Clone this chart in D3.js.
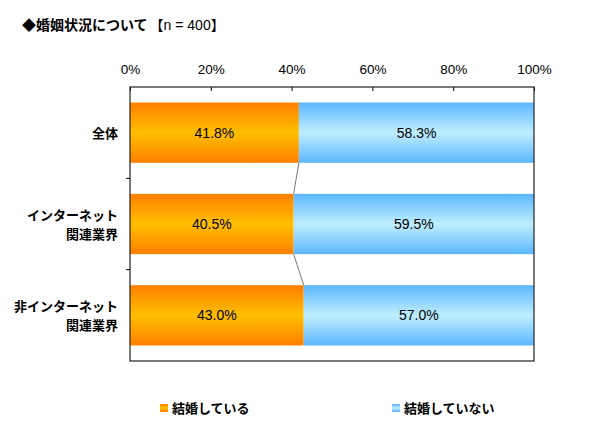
<!DOCTYPE html>
<html>
<head>
<meta charset="utf-8">
<script src="https://cdn.jsdelivr.net/npm/d3@7"></script>
<style>
  body { margin: 0; background: #fff; }
  svg { font-family: "Liberation Sans", "Noto Sans CJK JP", sans-serif; }
</style>
</head>
<body>
<script>
const categories = [["全体"], ["インターネット", "関連業界"], ["非インターネット", "関連業界"]];
const married = [41.8, 40.5, 43.0];
const notMarried = [58.3, 59.5, 57.0];
const labelsMarried = ["41.8%", "40.5%", "43.0%"];
const labelsNot = ["58.3%", "59.5%", "57.0%"];
const xTicks = [0, 20, 40, 60, 80, 100];
const seriesNames = ["結婚している", "結婚していない"];

const W = 600, H = 436;
const plotL = 130, plotR = 534, plotT = 87, plotB = 361;

const svg = d3.select("body").append("svg")
  .attr("width", W).attr("height", H);

// gradients
const defs = svg.append("defs");
function grad(id, edge, mid) {
  const g = defs.append("linearGradient").attr("id", id)
    .attr("x1", 0).attr("y1", 0).attr("x2", 0).attr("y2", 1);
  g.append("stop").attr("offset", "0%").attr("stop-color", edge);
  g.append("stop").attr("offset", "50%").attr("stop-color", mid);
  g.append("stop").attr("offset", "100%").attr("stop-color", edge);
}
grad("gOrange", "#ff7f00", "#ffbf00");
grad("gBlue", "#5cb6ff", "#bfeeff");

const x = d3.scaleLinear().domain([0, 100]).range([plotL, plotR]);
const y = d3.scaleBand().domain(d3.range(categories.length))
  .range([plotT, plotB]).paddingInner(0.34).paddingOuter(0.17);

// title
const title = svg.append("text")
  .attr("x", 22).attr("y", 30)
  .attr("font-size", 14);
title.append("tspan").attr("font-weight", "bold").text("◆婚姻状況について");
title.append("tspan").attr("dx", 2).text("【n = 400】");

// top axis
const xAxis = d3.axisTop(x).tickValues(xTicks)
  .tickFormat(d => d + "%").tickSize(-4).tickPadding(13);
const gx = svg.append("g").attr("transform", `translate(0,${plotT})`).call(xAxis);
gx.select(".domain").remove();
gx.selectAll("line").attr("stroke", "#000");
gx.selectAll("text").attr("font-size", 13.5).attr("font-family", "Liberation Sans, sans-serif").attr("dy", "0");

// bars
const rows = d3.range(categories.length);
svg.selectAll(".bm").data(rows).enter().append("rect")
  .attr("x", x(0)).attr("y", i => y(i))
  .attr("width", i => x(married[i]) - x(0))
  .attr("height", y.bandwidth())
  .attr("fill", "url(#gOrange)");
svg.selectAll(".bn").data(rows).enter().append("rect")
  .attr("x", i => x(married[i])).attr("y", i => y(i))
  .attr("width", i => x(Math.min(100, married[i] + notMarried[i])) - x(married[i]))
  .attr("height", y.bandwidth())
  .attr("fill", "url(#gBlue)");

// series lines
svg.selectAll(".sl").data(rows.slice(0, -1)).enter().append("line")
  .attr("x1", i => x(married[i])).attr("y1", i => y(i) + y.bandwidth())
  .attr("x2", i => x(married[i + 1])).attr("y2", i => y(i + 1))
  .attr("stroke", "#777").attr("stroke-width", 1);

// data labels
svg.selectAll(".lm").data(rows).enter().append("text")
  .attr("x", i => x(married[i] / 2)).attr("y", i => y(i) + y.bandwidth() / 2 + 5)
  .attr("text-anchor", "middle").attr("font-size", 14)
  .text(i => labelsMarried[i]);
svg.selectAll(".ln").data(rows).enter().append("text")
  .attr("x", i => x(married[i] + notMarried[i] / 2)).attr("y", i => y(i) + y.bandwidth() / 2 + 5)
  .attr("text-anchor", "middle").attr("font-size", 14)
  .text(i => labelsNot[i]);

// plot border
svg.append("rect")
  .attr("x", plotL).attr("y", plotT)
  .attr("width", plotR - plotL).attr("height", plotB - plotT)
  .attr("fill", "none").attr("stroke", "#222").attr("stroke-width", 1.2);

// left axis ticks at band boundaries
rows.slice(1).forEach(i => {
  const yy = y(i) - y.step() * y.paddingInner() / 2;
  svg.append("line").attr("x1", plotL - 4).attr("x2", plotL)
    .attr("y1", yy).attr("y2", yy).attr("stroke", "#000");
});

// category labels
rows.forEach(i => {
  const lines = categories[i];
  const cy = y(i) + y.bandwidth() / 2;
  const lh = 19;
  lines.forEach((t, k) => {
    svg.append("text")
      .attr("x", 118)
      .attr("y", cy + (k - (lines.length - 1) / 2) * lh + 5)
      .attr("text-anchor", "end")
      .attr("font-size", 13).attr("font-weight", "bold")
      .attr("font-family", "Noto Sans CJK JP, sans-serif")
      .text(t);
  });
});

// legend
const legendX = [160, 392];
const legendFill = ["url(#gOrange)", "url(#gBlue)"];
seriesNames.forEach((name, k) => {
  svg.append("rect").attr("x", legendX[k]).attr("y", 404)
    .attr("width", 8).attr("height", 8).attr("fill", legendFill[k]);
  svg.append("text").attr("x", legendX[k] + 12).attr("y", 413)
    .attr("font-size", 13).attr("font-weight", "bold")
    .attr("font-family", "Noto Sans CJK JP, sans-serif")
    .text(name);
});
</script>
</body>
</html>
